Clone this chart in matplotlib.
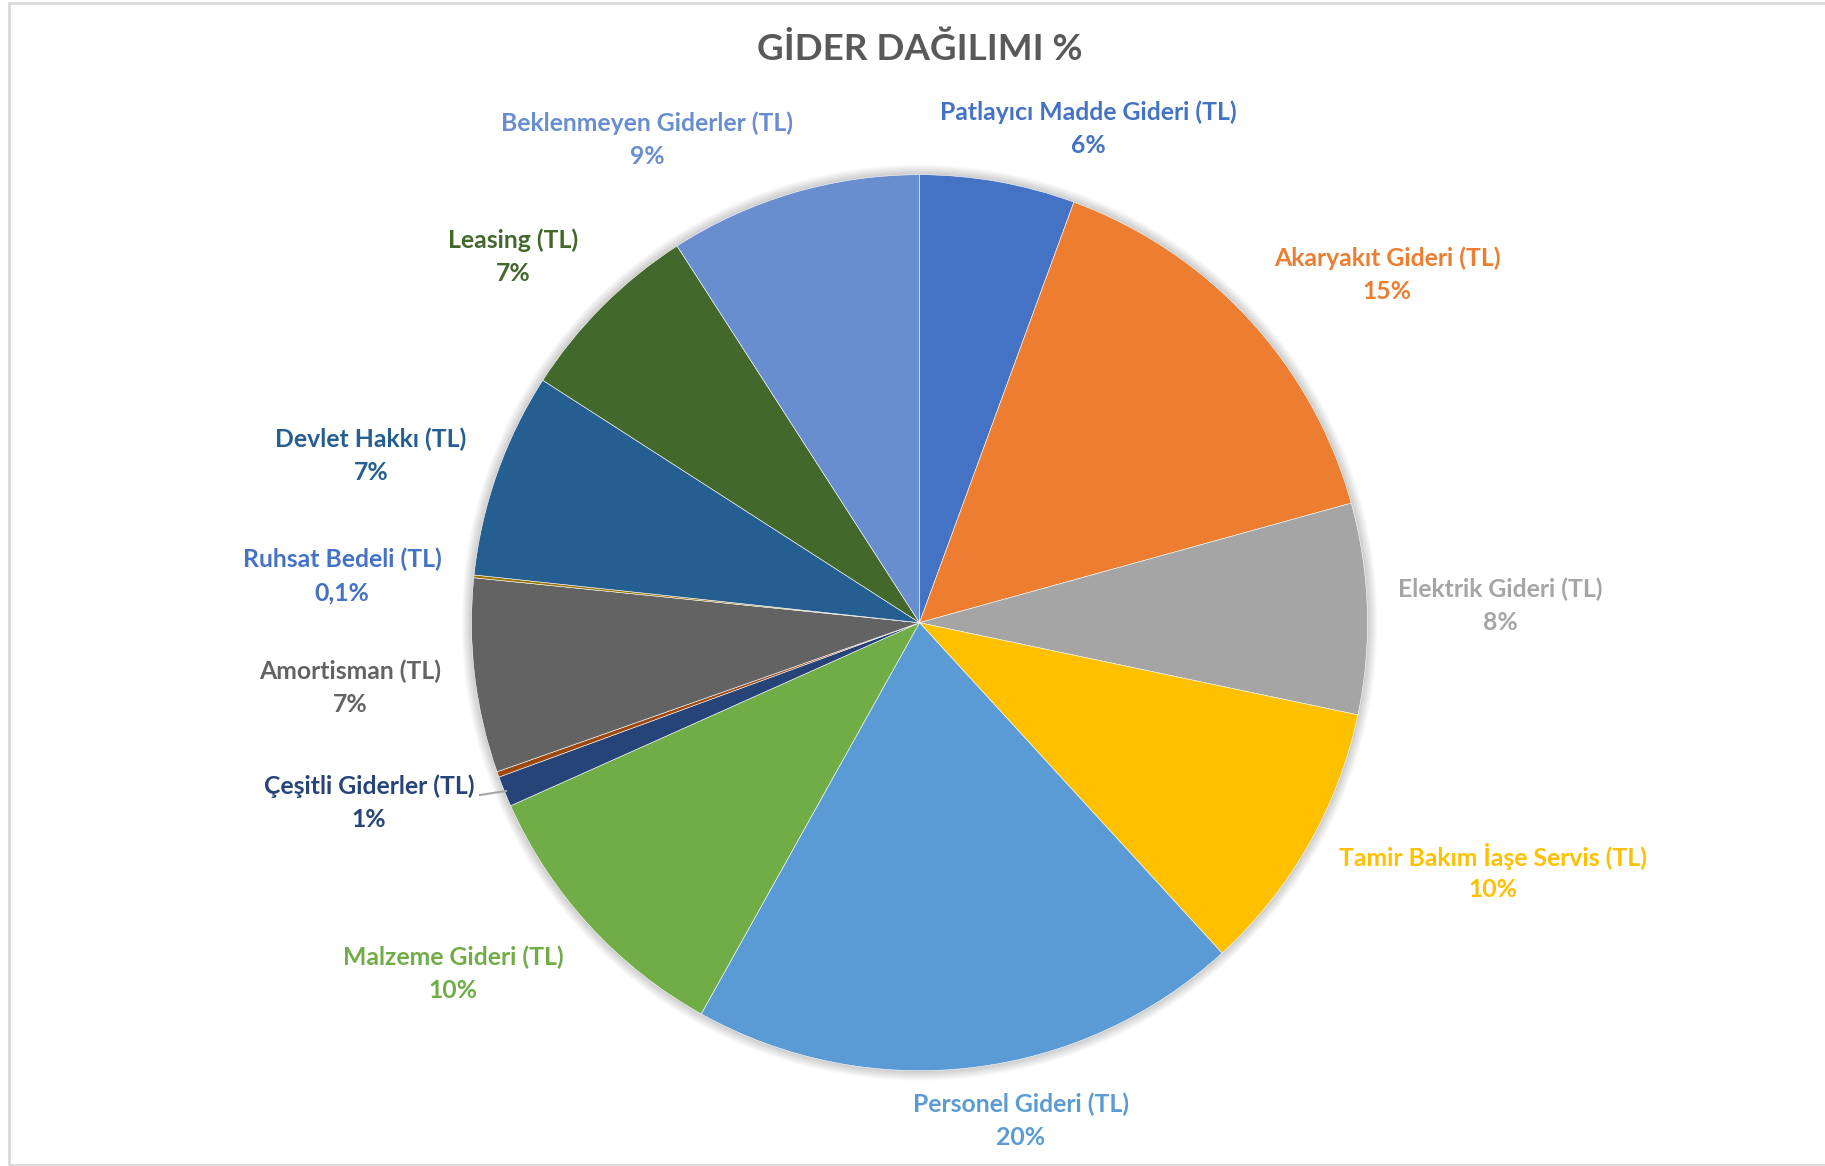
import matplotlib.pyplot as plt
from matplotlib.patches import Circle, Rectangle

plt.rcParams['font.family'] = ['Lato', 'DejaVu Sans']

# Expense shares (percent), clockwise from 12 o'clock
categories = ['Patlayıcı Madde Gideri (TL)', 'Akaryakıt Gideri (TL)', 'Elektrik Gideri (TL)',
              'Tamir Bakım İaşe Servis (TL)', 'Personel Gideri (TL)', 'Malzeme Gideri (TL)',
              'Çeşitli Giderler (TL)', '', 'Amortisman (TL)', 'Ruhsat Bedeli (TL)',
              'Devlet Hakkı (TL)', 'Leasing (TL)', 'Beklenmeyen Giderler (TL)']
values = [5.6, 15.1, 7.6, 9.9, 19.9, 10.2, 1.1, 0.2, 7.0, 0.1, 7.4, 6.8, 9.1]

colors = ['#4472C4', '#ED7D31', '#A5A5A5', '#FFC000', '#5B9BD5', '#70AD47',
          '#264478', '#9E480E', '#636363', '#997300', '#255E91', '#43682B', '#698ED0']
label_colors = ['#4472C4', '#ED7D31', '#A5A5A5', '#FFC000', '#5B9BD5', '#70AD47',
                '#264478', None, '#636363', '#4472C4', '#255E91', '#43682B', '#698ED0']
# label block centres in pixel coords (y from top)
label_pos = [(1088, 129), (1387, 275), (1500, 606), (1493, 873), (1021, 1121), (453, 974),
             (369, 803), None, (350, 688), (342, 576), (371, 456), (513, 257), (647, 140)]

W, H = 1825, 1166
cx, cy, R = 919.5, H - 622.7, 448

fig = plt.figure(figsize=(W / 100, H / 100), dpi=100)
ax = fig.add_axes([0, 0, 1, 1])

# soft drop shadow around the pie
for k in range(1, 11):
    ax.add_patch(Circle((cx, cy), R + k, color='black', alpha=0.02, lw=0, zorder=0))

ax.pie(values, colors=colors, startangle=90, counterclock=False, center=(cx, cy), radius=R,
       wedgeprops=dict(edgecolor='white', linewidth=0.4, zorder=1), frame=True)

ax.set_xlim(0, W)
ax.set_ylim(0, H)
ax.set_aspect('equal')
ax.axis('off')

# chart border
ax.add_patch(Rectangle((9.5, 1.5), W + 20, H - 4, fill=False, edgecolor='#D9D9D9', lw=2, zorder=0))

ax.text(cx, H - 49, 'GİDER DAĞILIMI %', ha='center', va='center', fontsize=26.5,
        fontweight='bold', color='#595959')

total = sum(values)
for name, v, c, pos in zip(categories, values, label_colors, label_pos):
    if pos is None:
        continue
    pct = v / total * 100
    txt = f'{pct:.1f}'.replace('.', ',') if pct < 0.95 else f'{pct:.0f}'
    x, y = pos[0], H - pos[1]
    ax.text(x, y + 16.5, name, ha='center', va='center', fontsize=17.8, fontweight='bold', color=c)
    ax.text(x, y - 16.5, txt + '%', ha='center', va='center', fontsize=17.8, fontweight='bold', color=c)

# leader line for the small slice
ax.plot([480, 506], [H - 795, H - 791], color='#A6A6A6', lw=1.5, zorder=2)

fig.savefig('out.png', dpi=100, facecolor='white')
